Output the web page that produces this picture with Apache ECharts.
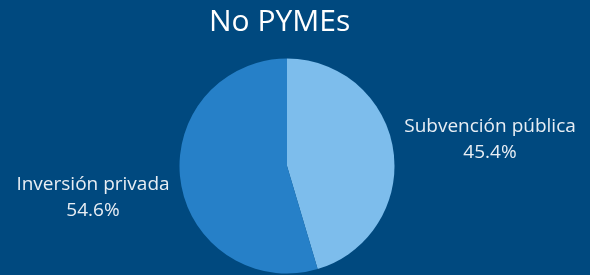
<!DOCTYPE html>
<html><head><meta charset="utf-8">
<script src="https://cdn.jsdelivr.net/npm/echarts@6/dist/echarts.min.js"></script>
<style>html,body{margin:0;padding:0;background:#00497f;}#c{width:590px;height:275px;}</style>
</head><body><div id="c"></div>
<script>
const title = 'No PYMEs';
const categories = ['Subvención pública', 'Inversión privada'];
const values = [45.4, 54.6];
const colors = ['#7dbdec', '#2680c8'];

const chart = echarts.init(document.getElementById('c'));
chart.setOption({
  backgroundColor: '#00497f',
  animation: false,
  title: {
    text: title, left: 204, top: 2,
    textStyle: {color: '#ffffff', fontFamily: 'Open Sans', fontSize: 30, fontWeight: 'normal'}
  },
  series: [{
    type: 'pie',
    center: [287, 166],
    radius: [0, 107.5],
    startAngle: 90,
    clockwise: true,
    data: categories.map((c, i) => ({name: c, value: values[i], itemStyle: {color: colors[i]}})),
    label: {
      show: true, position: 'outside',
      formatter: p => p.name + '\n' + p.value.toFixed(1) + '%',
      color: '#e8eef4', fontFamily: 'Open Sans', fontSize: 19, lineHeight: 26, align: 'center'
    },
    labelLine: {show: false, length: 10, length2: 0},
    labelLayout: function (p) {
      if (p.dataIndex === 0) return {x: 490, y: 140, align: 'center', verticalAlign: 'middle'};
      return {x: 93, y: 198, align: 'center', verticalAlign: 'middle'};
    },
    itemStyle: {borderWidth: 0},
    emphasis: {disabled: true}
  }]
});
</script></body></html>
